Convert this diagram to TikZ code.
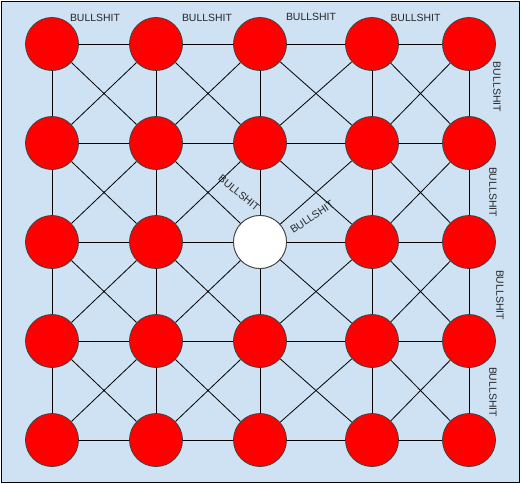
\documentclass[tikz,border=0pt]{standalone}
\usepackage{fontspec}
\setsansfont{Liberation Sans}
\usepackage{tikz}
\definecolor{paleblue}{HTML}{CFE2F3}

\tikzset{
  dot/.style={circle, draw=black!75, line width=0.8bp, fill=red, minimum size=53bp, inner sep=0pt},
  link/.style={line width=0.8bp},
  tag/.style={font=\sffamily\fontsize{10.5}{12}\selectfont, inner sep=0pt, text=black!85},
}

\begin{document}
\begin{tikzpicture}[x=1bp,y=-1bp]
  \useasboundingbox (0,0) rectangle (522,484);
  % Board
  \draw[fill=paleblue, line width=1bp] (1.5,2) rectangle (519.5,482);
  % Discs
  \foreach \ypos [count=\row] in {44,143,242,341,440}
    \foreach \xpos [count=\col] in {52,156,260,372,469}
      \node[dot] (n-\row-\col) at (\xpos,\ypos) {};
  \node[dot, fill=white] (hole) at (n-3-3) {};
  % Straight links
  \foreach \row in {1,...,5}
    \foreach \col in {1,...,4} {
      \pgfmathtruncatemacro\nxt{\col+1}
      \draw[link] (n-\row-\col) -- (n-\row-\nxt);
      \draw[link] (n-\col-\row) -- (n-\nxt-\row);
    }
  % Crossed links
  \foreach \row in {1,...,4}
    \foreach \col in {1,...,4} {
      \pgfmathtruncatemacro\nxt{\col+1}
      \pgfmathtruncatemacro\low{\row+1}
      \draw[link] (n-\row-\col) -- (n-\low-\nxt);
      \draw[link] (n-\row-\nxt) -- (n-\low-\col);
    }
  % Labels
  \node[tag] (t1) at (95,17.5) {BULLSHIT};
  \node[tag] (t2) at (207,17.5) {BULLSHIT};
  \node[tag] (t3) at (311,16.7) {BULLSHIT};
  \node[tag] (t4) at (415.5,17.5) {BULLSHIT};
  \node[tag, rotate=-90] (r1) at (497,87) {BULLSHIT};
  \node[tag, rotate=-90] (r2) at (493,192) {BULLSHIT};
  \node[tag, rotate=-90] (r3) at (500,295) {BULLSHIT};
  \node[tag, rotate=-90] (r4) at (493,392) {BULLSHIT};
  \node[tag, rotate=-40] (d1) at (239,193) {BULLSHIT};
  \node[tag, rotate=34] (d2) at (312,217) {BULLSHIT};
\end{tikzpicture}
\end{document}
